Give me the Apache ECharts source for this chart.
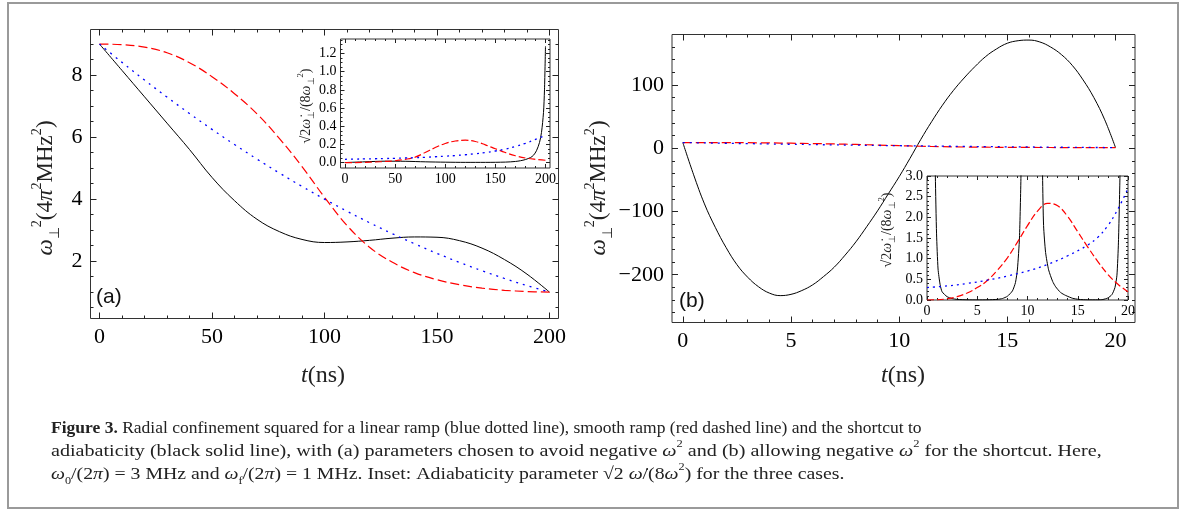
<!DOCTYPE html>
<html><head><meta charset="utf-8">
<script src="https://cdn.jsdelivr.net/npm/echarts@6/dist/echarts.min.js"></script>
<style>html,body{margin:0;padding:0;background:#fff}#c{width:1182px;height:513px}</style>
</head><body><div id="c"></div>
<script>
// ---------- DATA ----------
// Panel (a) main: omega_perp^2 (4 pi^2 MHz^2) vs t (ns)
const tA = [0,10,20,30,40,50,60,70,80,90,100,110,120,130,140,150,160,170,180,190,200];
const blackA = [9,8.15,7.3,6.45,5.6,4.7,3.95,3.35,2.95,2.7,2.6,2.62,2.67,2.74,2.78,2.77,2.66,2.42,2.05,1.58,1.0];
const redA   = [9,8.98,8.9,8.72,8.4,7.95,7.4,6.75,5.95,5.05,4.06,3.15,2.45,1.97,1.63,1.4,1.24,1.13,1.06,1.02,1.0];
const blueA  = [9,8.41,7.84,7.29,6.76,6.25,5.76,5.29,4.84,4.41,4.0,3.61,3.24,2.89,2.56,2.25,1.96,1.69,1.44,1.21,1.0];

// Panel (a) inset: adiabaticity parameter
const tInA = [0,10,20,30,40,50,60,70,80,90,100,110,120,130,140,150,160,170,180,190,200];
const redInA  = [0,0,0.002,0.006,0.012,0.02,0.035,0.06,0.11,0.165,0.21,0.237,0.246,0.232,0.195,0.152,0.11,0.075,0.05,0.035,0.025];
const blueInA = [0.036,0.038,0.04,0.042,0.044,0.047,0.05,0.054,0.058,0.064,0.07,0.077,0.086,0.097,0.11,0.127,0.148,0.176,0.212,0.255,0.3];
const tInABlack = [0,20,40,60,80,100,120,140,160,170,175,180,185,188,191,194,196,198,199,200];
const blackInA  = [0,0.008,0.015,0.014,0.008,0.004,0.002,0.002,0.005,0.012,0.02,0.033,0.055,0.08,0.13,0.22,0.33,0.55,0.8,1.28];

// Panel (b) main
const tBBlack = [0,0.5,1,1.5,2,2.5,3,3.5,4,4.5,5,5.5,6,6.5,7,7.5,8,8.5,9,9.5,10,10.5,11,11.5,12,12.5,13,13.5,14,14.5,15,15.5,16,16.5,17,17.5,18,18.5,19,19.5,20];
const blackB = [9,-42,-88,-125,-157,-184,-204,-219,-229,-233,-231,-225,-216,-203,-188,-169,-148,-124,-99,-72,-45,-16,14,42,68,91,111,129,145,157,166,170,171,168,160,148,131,108,80,45,1];
const tB = [0,1,2,3,4,5,6,7,8,9,10,11,12,13,14,15,16,17,18,19,20];
const redB  = [9,8.98,8.9,8.72,8.4,7.95,7.4,6.75,5.95,5.05,4.06,3.15,2.45,1.97,1.63,1.4,1.24,1.13,1.06,1.02,1.0];
const blueB = [9,8.41,7.84,7.29,6.76,6.25,5.76,5.29,4.84,4.41,4.0,3.61,3.24,2.89,2.56,2.25,1.96,1.69,1.44,1.21,1.0];

// Panel (b) inset
const tInB = [0,1,2,3,4,5,6,7,8,9,10,11,12,13,14,15,16,17,18,19,20];
const redInB = [0,0.005,0.03,0.08,0.17,0.3,0.47,0.72,1.02,1.4,1.8,2.15,2.34,2.28,2.02,1.65,1.28,0.93,0.62,0.38,0.2];
const tInBBlue = [0,2,4,6,8,10,12,14,16,17,18,19,20];
const blueInB = [0.3,0.34,0.4,0.48,0.58,0.7,0.86,1.07,1.33,1.52,1.8,2.2,2.7];
const tInBBlack = [0.7,0.83,0.95,1.1,1.3,1.5,2,2.5,3,4,5,6,7,7.5,8,8.5,8.8,9.0,9.2,9.35,9.45,10.5,11.4,11.5,11.6,11.8,12.1,12.5,12.8,13.3,13.8,14.5,15.1,16,17,17.5,18,18.4,18.7,18.9,19.05,19.2,19.3];
const blackInB = [5,3.0,1.6,0.75,0.38,0.2,0.08,0.035,0.015,0.004,0.002,0.004,0.015,0.035,0.09,0.22,0.42,0.75,1.5,3.0,5,null,5,3.0,1.8,1.15,0.73,0.45,0.32,0.18,0.11,0.04,0.015,0.004,0.004,0.012,0.05,0.13,0.3,0.6,1.4,3.0,5];

// Tick labels
const xTicksA = [0,50,100,150,200];
const yTicksA = [2,4,6,8];
const xTicksInA = [0,50,100,150,200];
const yTicksInA = [0,0.2,0.4,0.6,0.8,1.0,1.2];
const xTicksB = [0,5,10,15,20];
const yTicksB = [-200,-100,0,100];
const xTicksInB = [0,5,10,15,20];
const yTicksInB = [0,0.5,1,1.5,2,2.5,3];

// ---------- HELPERS ----------
function steps(a, b, s) { const r = []; for (let i = 0; ; i++) { const v = Math.round((a + i * s) * 1e6) / 1e6; if (v > b + 1e-9) break; r.push(v); } return r; }
function pairs(xs, ys) { return xs.map((x, i) => [x, ys[i]]); }
const SERIF = 'Liberation Serif';
function axes(dim, g, min, max, major, minor, fmt, fs, majLen, minLen, margin) {
  const pos = dim === 'x' ? ['bottom', 'top'] : ['left', 'right'];
  const mk = (p, vals, len, showLabel) => ({
    type: 'value', gridIndex: g, position: p, min: min, max: max,
    axisLine: { show: false, onZero: false },
    splitLine: { show: false },
    minorTick: { show: false },
    axisTick: { show: true, inside: true, length: len, customValues: vals, lineStyle: { color: '#222', width: 1 } },
    axisLabel: { show: showLabel, customValues: major, formatter: fmt, fontFamily: SERIF, fontSize: fs, color: '#000', margin: margin, showMinLabel: true, showMaxLabel: true, hideOverlap: false }
  });
  return [mk(pos[0], major, majLen, true), mk(pos[0], minor, minLen, false), mk(pos[1], major, majLen, false), mk(pos[1], minor, minLen, false)];
}
const intFmt = v => (v < 0 ? '\u2212' + (-v) : String(v));
const f1 = v => v.toFixed(1);

const grids = [
  { left: 90.5, top: 29.5, width: 468, height: 289 },
  { left: 340.5, top: 39, width: 209.5, height: 129, backgroundColor: '#fff' },
  { left: 672, top: 34.5, width: 463, height: 288 },
  { left: 927, top: 176, width: 201, height: 124, backgroundColor: '#fff' }
].map(g => Object.assign({ show: true, borderColor: '#333', borderWidth: 1, containLabel: false }, g));

const xAxes = [].concat(
  axes('x', 0, -4, 204, xTicksA, steps(0, 200, 10), intFmt, 22, 6, 3, 8),
  axes('x', 1, -4.5, 204.5, xTicksInA, steps(0, 200, 10), intFmt, 14, 4, 2, 4),
  axes('x', 2, -0.5, 20.9, xTicksB, steps(0, 20, 1), intFmt, 22, 6, 3, 8),
  axes('x', 3, 0, 20, xTicksInB, steps(0, 20, 1), intFmt, 14, 4, 2, 4)
);
const yAxes = [].concat(
  axes('y', 0, 0.15, 9.47, yTicksA, steps(0.5, 9, 0.5), intFmt, 22, 6, 3, 8),
  axes('y', 1, -0.06, 1.36, yTicksInA, steps(0, 1.35, 0.05), f1, 14, 4, 2, 4),
  axes('y', 2, -275.5, 179.8, yTicksB, steps(-260, 160, 20), intFmt, 22, 6, 3, 8),
  axes('y', 3, 0, 3, yTicksInB, steps(0, 3, 0.1), f1, 14, 4, 2, 4)
);

function line(g, data, color, type, width, smooth) {
  return { type: 'line', xAxisIndex: g * 4, yAxisIndex: g * 4, data: data, showSymbol: false, symbol: 'none',
    smooth: smooth, clip: true, connectNulls: false, animation: false,
    lineStyle: { color: color, width: width, type: type }, z: 3 };
}
const RED = '#ff0000', BLUE = '#0000ff', BLACK = '#000000';
const series = [
  line(0, pairs(tA, blackA), BLACK, 'solid', 1, 0.4),
  line(0, pairs(tA, redA), RED, [9, 4], 1.2, 0.4),
  line(0, pairs(tA, blueA), BLUE, [2, 5], 1.3, 0.4),
  line(1, pairs(tInABlack, blackInA), BLACK, 'solid', 1, 0.3),
  line(1, pairs(tInA, redInA), RED, [7, 3], 1.2, 0.4),
  line(1, pairs(tInA, blueInA), BLUE, [2, 4], 1.3, 0.4),
  line(2, pairs(tBBlack, blackB), BLACK, 'solid', 1, 0.4),
  line(2, pairs(tB, redB), RED, [9, 4], 1.2, 0.4),
  line(2, pairs(tB, blueB), BLUE, [2, 5], 1.3, 0.4),
  line(3, pairs(tInBBlack, blackInB), BLACK, 'solid', 1, 0.2),
  line(3, pairs(tInB, redInB), RED, [7, 3], 1.2, 0.4),
  line(3, pairs(tInBBlue, blueInB), BLUE, [2, 4], 1.3, 0.4)
];

const mathRich = (fs) => ({
  n: { fontFamily: SERIF, fontSize: fs, color: '#222', lineHeight: fs * 1.4, verticalAlign: 'middle' },
  i: { fontFamily: SERIF, fontStyle: 'italic', fontSize: fs, color: '#222', lineHeight: fs * 1.4, verticalAlign: 'middle' },
  sup: { fontFamily: SERIF, fontSize: fs * 0.62, color: '#222', verticalAlign: 'top', lineHeight: fs * 1.4 },
  sub: { fontFamily: SERIF, fontSize: fs * 0.62, color: '#222', verticalAlign: 'bottom', lineHeight: fs * 1.4 },
  b: { fontFamily: SERIF, fontWeight: 'bold', fontSize: fs, color: '#222', lineHeight: fs * 1.4, verticalAlign: 'middle' }
});
function txt(x, y, text, fs, rot, align, sx) {
  return { type: 'text', x: x, y: y, rotation: rot || 0, scaleX: sx || 1, z: 10,
    style: { text: text, rich: mathRich(fs), fontFamily: SERIF, fontSize: fs, fill: '#222', align: align || 'center', verticalAlign: 'middle' } };
}
const yLabelMain = '{i|ω}{sub|⊥}{sup|2}{n|(4}{i|π}{sup|2}{n|MHz}{sup|2}{n|)}';
const yLabelInset = '{n|√2}{i|ω̇}{sub|⊥}{n|/(8}{i|ω}{sub|⊥}{sup|2}{n|)}';
const xLabel = '{i|t}{n|(ns)}';
const cap1 = '{b|Figure 3.}{n| Radial confinement squared for a linear ramp (blue dotted line), smooth ramp (red dashed line) and the shortcut to}';
const cap2 = '{n|adiabaticity (black solid line), with (a) parameters chosen to avoid negative }{i|ω}{sup|2}{n| and (b) allowing negative }{i|ω}{sup|2}{n| for the shortcut. Here,}';
const cap3 = '{i|ω}{sub|0}{n|/(2}{i|π}{n|) = 3 MHz and }{i|ω}{sub|f}{n|/(2}{i|π}{n|) = 1 MHz. Inset: Adiabaticity parameter √2 }{i|ω̇}{n|/(8}{i|ω}{sup|2}{n|) for the three cases.}';

const graphic = [
  { type: 'rect', shape: { x: 8, y: 3, width: 1170, height: 505 }, style: { fill: 'none', stroke: '#9a9a9a', lineWidth: 2 }, z: 0 },
  txt(46, 188, yLabelMain, 23, Math.PI / 2),
  txt(599, 188, yLabelMain, 23, Math.PI / 2),
  txt(323, 376, xLabel, 24, 0),
  txt(903, 376, xLabel, 24, 0),
  txt(306, 106, yLabelInset, 14, Math.PI / 2),
  txt(887, 230, yLabelInset, 14, Math.PI / 2),
  { type: 'text', x: 96, y: 297, z: 10, style: { text: '(a)', fontFamily: 'Liberation Sans', fontSize: 21, fill: '#111', align: 'left', verticalAlign: 'middle' } },
  { type: 'text', x: 679, y: 301, z: 10, style: { text: '(b)', fontFamily: 'Liberation Sans', fontSize: 21, fill: '#111', align: 'left', verticalAlign: 'middle' } },
  txt(51, 428, cap1, 17.5, 0, 'left', 1),
  txt(51, 451, cap2, 17.5, 0, 'left', 1.15),
  txt(51, 474, cap3, 17.5, 0, 'left', 1.13)
];

const chart = echarts.init(document.getElementById('c'), null, { renderer: 'canvas' });
chart.setOption({
  animation: false,
  backgroundColor: '#fff',
  grid: grids,
  xAxis: xAxes,
  yAxis: yAxes,
  series: series,
  graphic: graphic
});
</script></body></html>
